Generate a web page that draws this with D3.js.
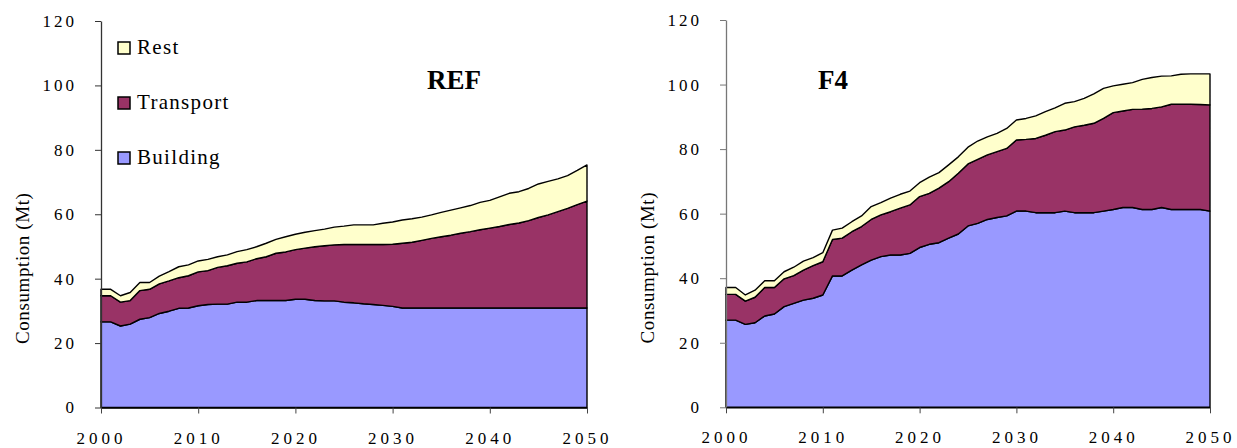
<!DOCTYPE html>
<html>
<head>
<meta charset="utf-8">
<script src="https://cdn.jsdelivr.net/npm/d3@7"></script>
<style>
  body { margin: 0; background: #fff; }
  text { font-family: "Liberation Serif", "DejaVu Serif", serif; fill: #000; }
</style>
</head>
<body>
<svg width="1237" height="448"></svg>
<script>
// categories
const years = d3.range(2000, 2051);
const seriesNames = ["Building", "Transport", "Rest"];
const legendOrder = ["Rest", "Transport", "Building"];
const yTicks = [0, 20, 40, 60, 80, 100, 120];
const xTicks = [2000, 2010, 2020, 2030, 2040, 2050];

// REF scenario (Mt), 2000..2050
const refBuilding = [26.6, 26.6, 25.3, 25.9, 27.4, 27.9, 29.2, 29.9, 30.8, 30.9,
  31.6, 32.0, 32.1, 32.1, 32.7, 32.7, 33.2, 33.2, 33.2, 33.2,
  33.6, 33.6, 33.2, 33.1, 33.1, 32.7, 32.5, 32.2, 32.0, 31.7,
  31.4, 30.9, 30.9, 30.9, 30.9, 30.9, 30.9, 30.9, 30.9, 30.9,
  30.9, 30.9, 30.9, 30.9, 30.9, 30.9, 30.9, 30.9, 30.9, 30.9, 30.9];
const refTransport = [8.1, 8.1, 7.4, 7.3, 8.9, 8.8, 9.2, 9.4, 9.5, 10.0,
  10.5, 10.5, 11.4, 11.9, 12.1, 12.5, 13.0, 13.6, 14.7, 15.1,
  15.4, 15.9, 16.7, 17.1, 17.4, 17.9, 18.1, 18.4, 18.6, 18.9,
  19.3, 20.1, 20.4, 21.0, 21.6, 22.1, 22.6, 23.2, 23.7, 24.3,
  24.8, 25.3, 25.9, 26.4, 27.1, 28.1, 28.9, 29.9, 30.9, 32.1, 33.2];
const refRest = [2.0, 2.0, 2.0, 2.5, 2.5, 2.1, 2.4, 2.9, 3.4, 3.4,
  3.4, 3.5, 3.3, 3.4, 3.6, 3.8, 3.7, 4.2, 4.3, 4.7,
  4.8, 4.9, 5.0, 5.2, 5.5, 5.7, 6.1, 6.1, 6.1, 6.6,
  6.9, 7.2, 7.3, 7.2, 7.3, 7.6, 7.8, 7.9, 8.1, 8.5,
  8.6, 9.2, 9.7, 9.7, 10.0, 10.4, 10.4, 10.2, 10.2, 10.6, 11.2];

// F4 scenario (Mt), 2000..2050
const f4Building = [27.0, 27.0, 25.7, 26.2, 28.3, 28.9, 31.2, 32.2, 33.2, 33.8,
  34.8, 40.7, 40.7, 42.5, 44.1, 45.6, 46.7, 47.2, 47.2, 47.7,
  49.5, 50.5, 51.0, 52.4, 53.7, 56.2, 57.0, 58.2, 58.8, 59.3,
  60.8, 60.8, 60.3, 60.3, 60.3, 60.8, 60.3, 60.3, 60.3, 60.8,
  61.3, 61.9, 61.9, 61.3, 61.3, 61.9, 61.3, 61.3, 61.3, 61.3, 60.8];
const f4Transport = [8.0, 8.0, 7.2, 7.9, 8.8, 8.2, 8.6, 8.6, 9.3, 10.1,
  10.3, 11.3, 11.7, 11.9, 11.9, 12.6, 12.9, 13.4, 14.5, 15.0,
  15.8, 15.8, 16.9, 17.5, 18.8, 19.2, 19.8, 20.0, 20.4, 20.9,
  22.0, 22.2, 23.0, 24.0, 25.1, 25.1, 26.6, 27.1, 27.7, 28.7,
  30.0, 29.9, 30.4, 31.1, 31.3, 31.2, 32.6, 32.6, 32.6, 32.5, 32.9];
const f4Rest = [2.1, 2.1, 1.9, 2.2, 2.1, 2.1, 2.2, 2.6, 2.8, 2.5,
  2.8, 2.9, 3.1, 3.1, 3.3, 4.0, 3.8, 4.2, 4.3, 4.3,
  4.3, 5.0, 4.8, 5.2, 5.1, 5.2, 5.7, 5.6, 5.7, 6.2,
  6.2, 6.5, 7.0, 7.3, 7.4, 8.3, 7.8, 8.3, 9.1, 9.3,
  8.3, 8.3, 8.3, 9.2, 9.6, 9.5, 8.8, 9.3, 9.4, 9.5, 9.6];

const color = { Building: "#9999ff", Transport: "#993366", Rest: "#ffffcc" };

const svg = d3.select("svg");

function drawPanel(cfg) {
  const x = d3.scaleLinear().domain([2000, 2050]).range([cfg.left, cfg.right]);
  const y = d3.scaleLinear().domain([0, 120]).range([cfg.bottom, cfg.top]);

  const rows = years.map((yr, i) => ({
    year: yr, Building: cfg.building[i], Transport: cfg.transport[i], Rest: cfg.rest[i]
  }));
  const stacked = d3.stack().keys(seriesNames)(rows);

  const area = d3.area()
    .x(d => x(d.data.year))
    .y0(d => y(d[0]))
    .y1(d => y(d[1]));

  svg.append("g").selectAll("path")
    .data(stacked)
    .join("path")
      .attr("d", area)
      .attr("fill", d => color[d.key])
      .attr("stroke", "#000")
      .attr("stroke-width", 1.4)
      .attr("stroke-linejoin", "round");

  // y axis
  const yAxis = svg.append("g")
    .attr("transform", `translate(${cfg.left},0)`)
    .call(d3.axisLeft(y).tickValues(yTicks).tickSize(6).tickSizeOuter(0).tickPadding(18));
  yAxis.select(".domain").attr("stroke", cfg.axisColor).attr("stroke-width", 1.3);
  yAxis.selectAll(".tick line").attr("stroke", cfg.axisColor);
  yAxis.selectAll("text")
    .style("font-family", '"Liberation Serif", serif')
    .style("font-size", "17px")
    .style("letter-spacing", "3px");

  // x axis
  const xAxis = svg.append("g")
    .attr("transform", `translate(0,${cfg.bottom})`)
    .call(d3.axisBottom(x).tickValues(xTicks).tickFormat(d3.format("d")).tickSize(6).tickSizeOuter(0).tickPadding(18));
  xAxis.select(".domain").attr("stroke", "#000").attr("stroke-width", 1.3);
  xAxis.selectAll(".tick line").attr("stroke", "#444");
  xAxis.selectAll("text")
    .style("font-family", '"Liberation Serif", serif')
    .style("font-size", "17px")
    .style("letter-spacing", "4px");

  // axis title
  svg.append("text")
    .attr("transform", `translate(${cfg.titleX},${(cfg.top + cfg.bottom) / 2 + 54}) rotate(-90)`)
    .attr("text-anchor", "middle")
    .style("font-size", "19px")
    .style("letter-spacing", "0.6px")
    .text("Consumption (Mt)");

  // scenario name
  svg.append("text")
    .attr("x", cfg.nameX)
    .attr("y", 89)
    .attr("text-anchor", "middle")
    .style("font-size", "27px")
    .style("font-weight", "bold")
    .text(cfg.name);
}

drawPanel({
  left: 101, right: 587, top: 21, bottom: 407.5,
  building: refBuilding, transport: refTransport, rest: refRest,
  axisColor: "#333", titleX: 29, name: "REF", nameX: 454
});

drawPanel({
  left: 726, right: 1210, top: 20, bottom: 407.3,
  building: f4Building, transport: f4Transport, rest: f4Rest,
  axisColor: "#777", titleX: 654, name: "F4", nameX: 833
});

// legend (left panel only)
const legend = svg.append("g").selectAll("g")
  .data(legendOrder)
  .join("g")
    .attr("transform", (d, i) => `translate(118,${42 + i * 55})`);
legend.append("rect")
  .attr("width", 12).attr("height", 12)
  .attr("fill", d => color[d])
  .attr("stroke", "#000")
  .attr("stroke-width", 1.5);
legend.append("text")
  .attr("x", 19)
  .attr("y", 12)
  .style("font-size", "21px")
  .style("letter-spacing", "1.3px")
  .text(d => d);
</script>
</body>
</html>
